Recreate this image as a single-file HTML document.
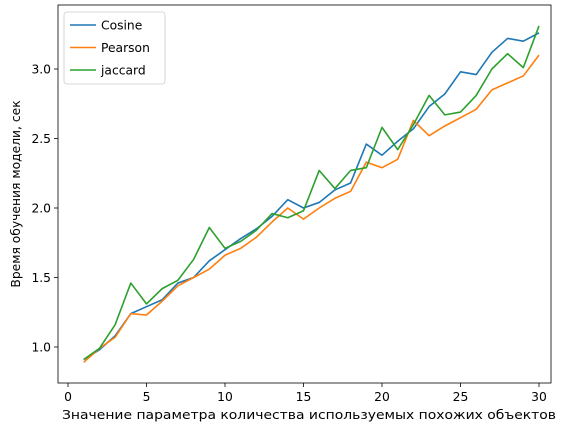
<!DOCTYPE html>
<html><head><meta charset="utf-8"><style>
html,body{margin:0;padding:0;background:#fff;}
svg{display:block;font-family:"DejaVu Sans","Liberation Sans",sans-serif;}
</style></head><body>
<svg id="chart" width="567" height="432" viewBox="0 0 567 432"></svg>
<script>
const xs = [1,2,3,4,5,6,7,8,9,10,11,12,13,14,15,16,17,18,19,20,21,22,23,24,25,26,27,28,29,30];
const cosine = [0.91,0.98,1.08,1.24,1.29,1.34,1.46,1.50,1.62,1.70,1.78,1.85,1.94,2.06,2.00,2.04,2.13,2.18,2.46,2.38,2.48,2.57,2.73,2.82,2.98,2.96,3.12,3.22,3.20,3.26];
const pearson = [0.89,0.99,1.07,1.24,1.23,1.33,1.44,1.50,1.56,1.66,1.71,1.79,1.90,2.00,1.92,2.00,2.07,2.12,2.33,2.29,2.35,2.63,2.52,2.59,2.65,2.71,2.85,2.90,2.95,3.10];
const jaccard = [0.91,0.99,1.16,1.46,1.31,1.42,1.48,1.63,1.86,1.71,1.76,1.84,1.96,1.93,1.98,2.27,2.14,2.27,2.29,2.58,2.42,2.60,2.81,2.67,2.69,2.81,3.00,3.11,3.01,3.31];
const xTicks = [0,5,10,15,20,25,30];
const yTicks = [1.0,1.5,2.0,2.5,3.0];
const yTickLabels = ["1.0","1.5","2.0","2.5","3.0"];
const seriesNames = ["Cosine","Pearson","jaccard"];

const L=58,R=551,T=5,B=383;
const FS=12.3;
const sx = v => 68 + v*(539-68)/30;
const sy = v => 347 - (v-1)*139;
const svg = document.getElementById('chart');
const NS='http://www.w3.org/2000/svg';
function mk(tag, attrs){const e=document.createElementNS(NS,tag);for(const k in attrs)e.setAttribute(k,attrs[k]);svg.appendChild(e);return e;}

xTicks.forEach(t=>{
  const l=mk('line',{x1:sx(t),x2:sx(t),y1:B,y2:B+4,stroke:'#000','stroke-width':0.8});
  
  
  const tx=mk('text',{x:sx(t),y:B+18,'font-size':FS,'text-anchor':'middle',fill:'#000'});
  tx.textContent=t;
  
  
});
yTicks.forEach((t,i)=>{
  const l=mk('line',{x1:L-4,x2:L,y1:sy(t),y2:sy(t),stroke:'#000','stroke-width':0.8});
  
  
  const tx=mk('text',{x:L-7,y:sy(t)+4.5,'font-size':FS,'text-anchor':'end',fill:'#000'});
  tx.textContent=yTickLabels[i];
  
  
});

const colors=['#1f77b4','#ff7f0e','#2ca02c'];
[cosine,pearson,jaccard].forEach((s,k)=>{
  const pts=s.map((v,i)=>sx(xs[i])+','+sy(v)).join(' ');
  const p=mk('polyline',{points:pts,fill:'none',stroke:colors[k],'stroke-width':1.6,'stroke-linejoin':'round'});
  
  
});

const frame=mk('rect',{x:L,y:T,width:R-L,height:B-T,fill:'none',stroke:'#000','stroke-width':0.8});



const xl=mk('text',{x:309,y:419,'font-size':FS,'text-anchor':'middle',fill:'#000',textLength:494,lengthAdjust:'spacingAndGlyphs'});
xl.textContent='Значение параметра количества используемых похожих объектов';


const yl=mk('text',{x:0,y:0,'font-size':FS,'text-anchor':'middle',fill:'#000',transform:'translate(20,'+((T+B)/2)+') rotate(-90)'});
yl.textContent='Время обучения модели, сек';



const lg=mk('rect',{x:64,y:12,width:101,height:72,rx:3,fill:'#fff',stroke:'#ccc','stroke-width':0.8});


seriesNames.forEach((n,k)=>{
  const y=25+k*22.5;
  const l=mk('line',{x1:70,x2:96,y1:y,y2:y,stroke:colors[k],'stroke-width':1.6});
  
  
  const t=mk('text',{x:101,y:y+4.5,'font-size':FS,fill:'#000'});
  t.textContent=n;
  
  
});
</script>
</body></html>
